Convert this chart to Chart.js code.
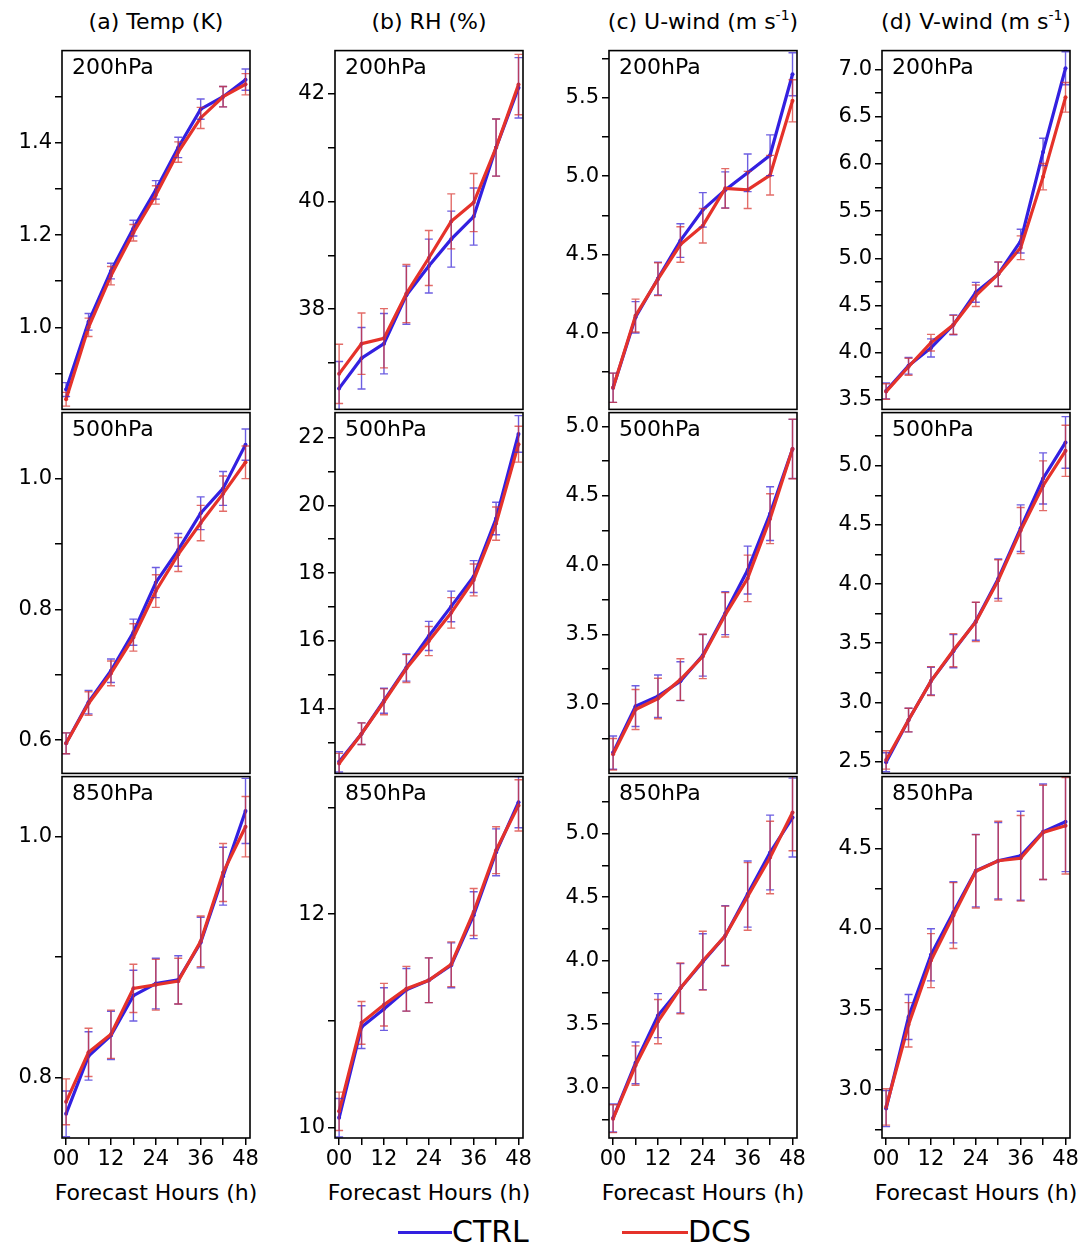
<!DOCTYPE html>
<html>
<head>
<meta charset="utf-8">
<script src="https://cdn.jsdelivr.net/npm/chart.js@4.4.1/dist/chart.umd.min.js"></script>
<style>
  body { margin: 0; background: #fff; }
  #fig { position: relative; width: 1078px; height: 1250px; font-family: 'DejaVu Sans', sans-serif; color: #000; overflow: hidden; }
  .lbl { position: absolute; font-size: 22px; line-height: 22px; white-space: nowrap; }
  .ttl { position: absolute; font-size: 22px; line-height: 22px; height: 22px; white-space: nowrap; text-align: center; width: 300px; }
  .sup { font-size: 14px; position: relative; top: -9px; }
  canvas { position: absolute; }
</style>
</head>
<body>
<div id="fig"></div>
<script>
// forecast hours (x axis)
var hours = [0, 6, 12, 18, 24, 30, 36, 42, 48];
var hourTicks = [0, 6, 12, 18, 24, 30, 36, 42, 48];
var hourLabels = [0, 12, 24, 36, 48];

// (a) Temp (K)
var tmp200Ctrl = [0.865, 1.012, 1.122, 1.215, 1.298, 1.390, 1.473, 1.500, 1.537];
var tmp200Dcs = [0.844, 1.000, 1.112, 1.205, 1.287, 1.380, 1.454, 1.500, 1.527];
var tmp200CtrlErr = [0.015, 0.018, 0.017, 0.017, 0.020, 0.022, 0.022, 0.022, 0.023];
var tmp200DcsErr = [0.015, 0.020, 0.020, 0.018, 0.020, 0.022, 0.023, 0.022, 0.023];
var tmp200Range = [0.822, 1.6];
var tmp200Ticks = [0.9, 1.0, 1.1, 1.2, 1.3, 1.4, 1.5];
var tmp200Labels = [1.0, 1.2, 1.4];

var tmp500Ctrl = [0.595, 0.658, 0.706, 0.765, 0.841, 0.891, 0.947, 0.985, 1.052];
var tmp500Dcs = [0.595, 0.656, 0.702, 0.757, 0.828, 0.884, 0.932, 0.977, 1.025];
var tmp500CtrlErr = [0.016, 0.018, 0.018, 0.020, 0.023, 0.025, 0.025, 0.026, 0.024];
var tmp500DcsErr = [0.016, 0.018, 0.019, 0.021, 0.025, 0.026, 0.027, 0.027, 0.025];
var tmp500Range = [0.549, 1.101];
var tmp500Ticks = [0.6, 0.7, 0.8, 0.9, 1.0];
var tmp500Labels = [0.6, 0.8, 1.0];

var tmp850Ctrl = [0.770, 0.818, 0.835, 0.868, 0.878, 0.881, 0.912, 0.967, 1.021];
var tmp850Dcs = [0.780, 0.821, 0.836, 0.874, 0.877, 0.880, 0.913, 0.970, 1.008];
var tmp850CtrlErr = [0.019, 0.020, 0.020, 0.021, 0.021, 0.020, 0.021, 0.024, 0.027];
var tmp850DcsErr = [0.019, 0.020, 0.020, 0.020, 0.021, 0.019, 0.021, 0.024, 0.025];
var tmp850Range = [0.75, 1.0495];
var tmp850Ticks = [0.8, 0.9, 1.0];
var tmp850Labels = [0.8, 1.0];

// (b) RH (%)
var rh200Ctrl = [36.53, 37.09, 37.36, 38.26, 38.80, 39.30, 39.72, 41.00, 42.11];
var rh200Dcs = [36.80, 37.36, 37.46, 38.29, 38.95, 39.63, 39.98, 41.00, 42.17];
var rh200CtrlErr = [0.50, 0.57, 0.56, 0.54, 0.50, 0.52, 0.53, 0.53, 0.56];
var rh200DcsErr = [0.55, 0.57, 0.55, 0.54, 0.51, 0.51, 0.54, 0.53, 0.56];
var rh200Range = [36.14, 42.8];
var rh200Ticks = [37, 38, 39, 40, 41, 42];
var rh200Labels = [38, 40, 42];

var rh500Ctrl = [12.44, 13.27, 14.24, 15.22, 16.15, 17.02, 17.90, 19.61, 22.10];
var rh500Dcs = [12.39, 13.27, 14.21, 15.19, 16.00, 16.83, 17.80, 19.46, 21.80];
var rh500CtrlErr = [0.30, 0.32, 0.37, 0.40, 0.43, 0.45, 0.47, 0.48, 0.54];
var rh500DcsErr = [0.30, 0.32, 0.38, 0.41, 0.43, 0.45, 0.47, 0.49, 0.53];
var rh500Range = [12.1, 22.73];
var rh500Ticks = [13, 14, 15, 16, 17, 18, 19, 20, 21, 22];
var rh500Labels = [14, 16, 18, 20, 22];

var rh850Ctrl = [10.09, 10.94, 11.11, 11.29, 11.38, 11.52, 11.99, 12.58, 13.05];
var rh850Dcs = [10.15, 10.98, 11.15, 11.30, 11.38, 11.53, 12.02, 12.60, 13.02];
var rh850CtrlErr = [0.18, 0.20, 0.20, 0.20, 0.21, 0.21, 0.22, 0.22, 0.24];
var rh850DcsErr = [0.18, 0.20, 0.20, 0.21, 0.21, 0.21, 0.22, 0.22, 0.24];
var rh850Range = [9.9, 13.29];
var rh850Ticks = [10, 11, 12, 13];
var rh850Labels = [10, 12];

// (c) U-wind (m s-1)
var u200Ctrl = [3.651, 4.100, 4.347, 4.589, 4.785, 4.912, 5.021, 5.133, 5.649];
var u200Dcs = [3.651, 4.111, 4.343, 4.564, 4.684, 4.922, 4.912, 5.006, 5.480];
var u200CtrlErr = [0.093, 0.100, 0.105, 0.107, 0.110, 0.115, 0.120, 0.130, 0.137];
var u200DcsErr = [0.093, 0.105, 0.105, 0.113, 0.110, 0.126, 0.118, 0.126, 0.134];
var u200Range = [3.513, 5.8];
var u200Ticks = [3.75, 4.0, 4.25, 4.5, 4.75, 5.0, 5.25, 5.5, 5.75];
var u200Labels = [4.0, 4.5, 5.0, 5.5];

var u500Ctrl = [2.647, 2.982, 3.054, 3.162, 3.349, 3.653, 3.964, 4.371, 4.838];
var u500Dcs = [2.635, 2.958, 3.037, 3.174, 3.341, 3.641, 3.904, 4.335, 4.838];
var u500CtrlErr = [0.120, 0.147, 0.153, 0.140, 0.150, 0.155, 0.173, 0.194, 0.213];
var u500DcsErr = [0.114, 0.144, 0.146, 0.150, 0.160, 0.160, 0.168, 0.180, 0.215];
var u500Range = [2.497, 5.1];
var u500Ticks = [2.75, 3.0, 3.25, 3.5, 3.75, 4.0, 4.25, 4.5, 4.75, 5.0];
var u500Labels = [3.0, 3.5, 4.0, 4.5, 5.0];

var u850Ctrl = [2.762, 3.196, 3.568, 3.783, 3.992, 4.196, 4.524, 4.851, 5.126];
var u850Dcs = [2.757, 3.175, 3.521, 3.783, 4.000, 4.196, 4.505, 4.812, 5.165];
var u850CtrlErr = [0.110, 0.164, 0.173, 0.194, 0.220, 0.236, 0.260, 0.294, 0.310];
var u850DcsErr = [0.110, 0.155, 0.174, 0.200, 0.232, 0.233, 0.266, 0.285, 0.300];
var u850Range = [2.605, 5.448];
var u850Ticks = [2.75, 3.0, 3.25, 3.5, 3.75, 4.0, 4.25, 4.5, 4.75, 5.0, 5.25];
var u850Labels = [3.0, 3.5, 4.0, 4.5, 5.0];

// (d) V-wind (m s-1)
var v200Ctrl = [3.596, 3.862, 4.051, 4.296, 4.640, 4.832, 5.182, 6.127, 7.013];
var v200Dcs = [3.589, 3.852, 4.107, 4.296, 4.604, 4.832, 5.112, 5.865, 6.705];
var v200CtrlErr = [0.085, 0.088, 0.096, 0.105, 0.105, 0.128, 0.126, 0.145, 0.175];
var v200DcsErr = [0.082, 0.090, 0.088, 0.100, 0.114, 0.130, 0.126, 0.140, 0.157];
var v200Range = [3.4, 7.2];
var v200Ticks = [3.5, 3.75, 4.0, 4.25, 4.5, 4.75, 5.0, 5.25, 5.5, 5.75, 6.0, 6.25, 6.5, 6.75, 7.0];
var v200Labels = [3.5, 4.0, 4.5, 5.0, 5.5, 6.0, 6.5, 7.0];

var v500Ctrl = [2.494, 2.851, 3.180, 3.433, 3.685, 4.045, 4.472, 4.893, 5.197];
var v500Dcs = [2.514, 2.851, 3.180, 3.441, 3.680, 4.031, 4.452, 4.831, 5.126];
var v500CtrlErr = [0.080, 0.100, 0.117, 0.140, 0.160, 0.167, 0.197, 0.216, 0.218];
var v500DcsErr = [0.078, 0.100, 0.122, 0.140, 0.166, 0.175, 0.195, 0.210, 0.216];
var v500Range = [2.40, 5.449];
var v500Ticks = [2.5, 2.75, 3.0, 3.25, 3.5, 3.75, 4.0, 4.25, 4.5, 4.75, 5.0, 5.25];
var v500Labels = [2.5, 3.0, 3.5, 4.0, 4.5, 5.0];

var v850Ctrl = [2.883, 3.452, 3.839, 4.103, 4.362, 4.424, 4.455, 4.604, 4.666];
var v850Dcs = [2.893, 3.404, 3.803, 4.083, 4.358, 4.424, 4.439, 4.600, 4.641];
var v850CtrlErr = [0.112, 0.140, 0.162, 0.190, 0.225, 0.238, 0.277, 0.297, 0.310];
var v850DcsErr = [0.113, 0.138, 0.168, 0.205, 0.228, 0.245, 0.266, 0.293, 0.300];
var v850Range = [2.70, 4.947];
var v850Ticks = [2.75, 3.0, 3.25, 3.5, 3.75, 4.0, 4.25, 4.5, 4.75];
var v850Labels = [3.0, 3.5, 4.0, 4.5];

var colTitles = ['(a) Temp (K)', '(b) RH (%)', '(c) U-wind (m s<span class="sup">-1</span>)', '(d) V-wind (m s<span class="sup">-1</span>)'];
var levels = ['200hPa', '500hPa', '850hPa'];

// layout (px)
var colLeft = [62, 335, 609, 882];
var rowTop = [49, 411, 775];
var rowBottom = [411, 775, 1138];
var plotW = 188;
var axisW = 62;
var padT = 14, padR = 12, padB = 14, xAxisH = 44;

var blue = '#3320e0';
var red = '#e5322a';
var blueErr = 'rgba(60,40,215,0.75)';
var redErr = 'rgba(215,45,40,0.7)';
var fontFam = "'DejaVu Sans', sans-serif";

var panels = [
  [tmp200Ctrl, tmp200Dcs, tmp200CtrlErr, tmp200DcsErr, tmp200Range, tmp200Ticks, tmp200Labels, 1],
  [tmp500Ctrl, tmp500Dcs, tmp500CtrlErr, tmp500DcsErr, tmp500Range, tmp500Ticks, tmp500Labels, 1],
  [tmp850Ctrl, tmp850Dcs, tmp850CtrlErr, tmp850DcsErr, tmp850Range, tmp850Ticks, tmp850Labels, 1],
  [rh200Ctrl, rh200Dcs, rh200CtrlErr, rh200DcsErr, rh200Range, rh200Ticks, rh200Labels, 0],
  [rh500Ctrl, rh500Dcs, rh500CtrlErr, rh500DcsErr, rh500Range, rh500Ticks, rh500Labels, 0],
  [rh850Ctrl, rh850Dcs, rh850CtrlErr, rh850DcsErr, rh850Range, rh850Ticks, rh850Labels, 0],
  [u200Ctrl, u200Dcs, u200CtrlErr, u200DcsErr, u200Range, u200Ticks, u200Labels, 1],
  [u500Ctrl, u500Dcs, u500CtrlErr, u500DcsErr, u500Range, u500Ticks, u500Labels, 1],
  [u850Ctrl, u850Dcs, u850CtrlErr, u850DcsErr, u850Range, u850Ticks, u850Labels, 1],
  [v200Ctrl, v200Dcs, v200CtrlErr, v200DcsErr, v200Range, v200Ticks, v200Labels, 1],
  [v500Ctrl, v500Dcs, v500CtrlErr, v500DcsErr, v500Range, v500Ticks, v500Labels, 1],
  [v850Ctrl, v850Dcs, v850CtrlErr, v850DcsErr, v850Range, v850Ticks, v850Labels, 1]
];

// error bars drawn through the chart scales
var errorBarPlugin = {
  id: 'errorBars',
  afterDatasetsDraw: function(chart) {
    var ctx = chart.ctx;
    var area = chart.chartArea;
    var xs = chart.scales.x, ys = chart.scales.y;
    ctx.save();
    ctx.beginPath();
    ctx.rect(area.left, area.top, area.right - area.left, area.bottom - area.top);
    ctx.clip();
    chart.data.datasets.forEach(function(ds) {
      ctx.strokeStyle = ds.errColor;
      ctx.lineWidth = 1.4;
      ds.data.forEach(function(pt, i) {
        var e = ds.err[i];
        var x = xs.getPixelForValue(pt.x);
        var y1 = ys.getPixelForValue(pt.y - e);
        var y2 = ys.getPixelForValue(pt.y + e);
        ctx.beginPath();
        ctx.moveTo(x, y1); ctx.lineTo(x, y2);
        ctx.moveTo(x - 4, y1); ctx.lineTo(x + 4, y1);
        ctx.moveTo(x - 4, y2); ctx.lineTo(x + 4, y2);
        ctx.stroke();
      });
    });
    ctx.restore();
  },
  afterDraw: function(chart) {
    var ctx = chart.ctx;
    var a = chart.chartArea;
    ctx.save();
    ctx.strokeStyle = '#000';
    ctx.lineWidth = 1.6;
    ctx.strokeRect(a.left, a.top, a.right - a.left, a.bottom - a.top);
    ctx.restore();
  }
};

function pts(vals) {
  return vals.map(function(v, i) { return { x: hours[i], y: v }; });
}

var fig = document.getElementById('fig');

for (var c = 0; c < 4; c++) {
  var t = document.createElement('div');
  t.className = 'ttl';
  t.style.left = (colLeft[c] + plotW / 2 - 150) + 'px';
  t.style.top = '11px';
  t.innerHTML = colTitles[c];
  fig.appendChild(t);

  var xt = document.createElement('div');
  xt.className = 'ttl';
  xt.style.left = (colLeft[c] + plotW / 2 - 150) + 'px';
  xt.style.top = '1182px';
  xt.textContent = 'Forecast Hours (h)';
  fig.appendChild(xt);

  for (var r = 0; r < 3; r++) {
    makePanel(c, r, panels[c * 3 + r]);
  }
}

function makePanel(c, r, p) {
  var isBottom = (r == 2);
  var h = (rowBottom[r] - rowTop[r]) + padT + (isBottom ? xAxisH : padB);
  var w = axisW + plotW + padR;
  var cv = document.createElement('canvas');
  cv.width = w; cv.height = h;
  cv.style.left = (colLeft[c] - axisW) + 'px';
  cv.style.top = (rowTop[r] - padT) + 'px';
  cv.style.width = w + 'px'; cv.style.height = h + 'px';
  fig.appendChild(cv);

  var lab = document.createElement('div');
  lab.className = 'lbl';
  lab.style.left = (colLeft[c] + 10) + 'px';
  lab.style.top = (rowTop[r] + 7) + 'px';
  lab.textContent = levels[r];
  fig.appendChild(lab);

  var ticks = p[5], labels = p[6], dec = p[7];

  new Chart(cv, {
    type: 'line',
    data: {
      datasets: [
        // DCS is drawn on top of CTRL (lower order = drawn last)
        { label: 'CTRL', order: 1, data: pts(p[0]), err: p[2], errColor: blueErr, borderColor: blue, backgroundColor: blue,
          borderWidth: 3.2, pointRadius: 2, pointBorderWidth: 0, fill: false, tension: 0 },
        { label: 'DCS', order: 0, data: pts(p[1]), err: p[3], errColor: redErr, borderColor: red, backgroundColor: red,
          borderWidth: 3.2, pointRadius: 2, pointBorderWidth: 0, fill: false, tension: 0 }
      ]
    },
    options: {
      responsive: false,
      animation: false,
      layout: { padding: { top: padT, right: padR, bottom: isBottom ? 0 : padB, left: 0 } },
      plugins: { legend: { display: false }, tooltip: { enabled: false } },
      scales: {
        x: {
          type: 'linear', min: -1.1, max: 49.2, display: isBottom,
          afterBuildTicks: function(ax) { ax.ticks = hourTicks.map(function(v) { return { value: v }; }); },
          afterFit: function(ax) { if (isBottom) ax.height = xAxisH; },
          grid: { drawOnChartArea: false, tickLength: 7, color: '#000', lineWidth: 1.5 },
          border: { display: false },
          ticks: {
            font: { family: fontFam, size: 21 }, color: '#000', padding: 2, maxRotation: 0, autoSkip: false,
            callback: function(v) {
              if (hourLabels.indexOf(v) < 0) return '';
              return v < 10 ? '0' + v : '' + v;
            }
          }
        },
        y: {
          type: 'linear', min: p[4][0], max: p[4][1],
          afterBuildTicks: function(ax) { ax.ticks = ticks.map(function(v) { return { value: v }; }); },
          afterFit: function(ax) { ax.width = axisW; },
          grid: { drawOnChartArea: false, tickLength: 7, color: '#000', lineWidth: 1.5 },
          border: { display: false },
          ticks: {
            font: { family: fontFam, size: 21 }, color: '#000', padding: 3, autoSkip: false,
            callback: function(v) {
              if (labels.indexOf(v) < 0) return '';
              return v.toFixed(dec);
            }
          }
        }
      }
    },
    plugins: [errorBarPlugin]
  });
}

// legend
var leg = [[398, 54, blue, 452, 'CTRL'], [622, 66, red, 688, 'DCS']];
leg.forEach(function(l) {
  var ln = document.createElement('div');
  ln.style.position = 'absolute';
  ln.style.left = l[0] + 'px'; ln.style.top = '1231px';
  ln.style.width = l[1] + 'px'; ln.style.height = '3px';
  ln.style.background = l[2];
  fig.appendChild(ln);
  var tx = document.createElement('div');
  tx.className = 'lbl';
  tx.style.left = l[3] + 'px'; tx.style.top = '1217px';
  tx.style.fontSize = '30px'; tx.style.lineHeight = '30px';
  tx.textContent = l[4];
  fig.appendChild(tx);
});
</script>
</body>
</html>
